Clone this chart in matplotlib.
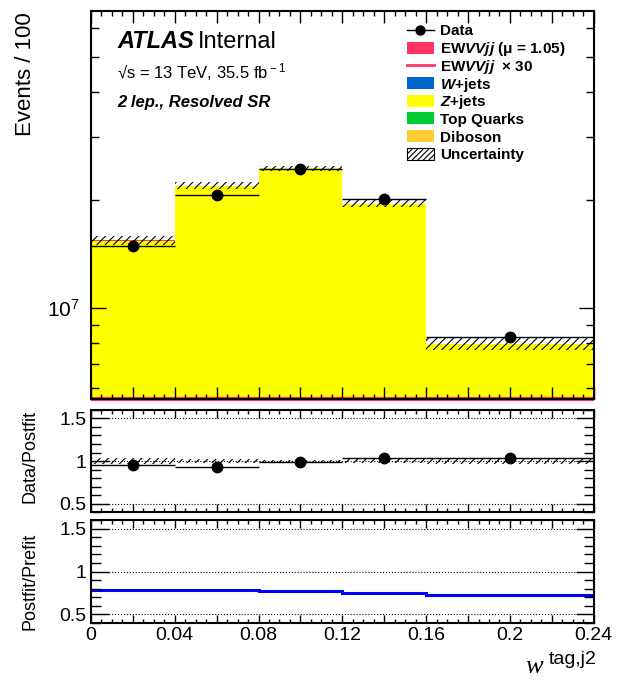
import numpy as np
import matplotlib.pyplot as plt
from matplotlib.patches import Rectangle
from matplotlib.ticker import FixedLocator, MultipleLocator, FuncFormatter, NullFormatter, LogLocator

plt.rcParams['font.family'] = ['Liberation Sans', 'DejaVu Sans']
plt.rcParams['mathtext.fontset'] = 'custom'
plt.rcParams['mathtext.rm'] = 'Liberation Sans'
plt.rcParams['mathtext.it'] = 'Liberation Sans:bold:italic'
plt.rcParams['mathtext.bf'] = 'Liberation Sans:bold'
plt.rcParams['hatch.linewidth'] = 0.8

# binning in w^{tag,j2}
edges = np.array([0.0, 0.04, 0.08, 0.12, 0.16, 0.24])
centers = 0.5 * (edges[1:] + edges[:-1])
halfw = 0.5 * (edges[1:] - edges[:-1])

# events / 100
data = np.array([1.49e7, 2.07e7, 2.44e7, 2.01e7, 8.3e6])
diboson = np.array([9.0e4, 1.2e5, 1.3e5, 1.1e5, 5.0e4])
top = np.array([6.0e4, 8.0e4, 9.0e4, 7.0e4, 3.0e4])
zjets = np.array([1.525e7, 2.165e7, 2.425e7, 1.93e7, 7.87e6])
wjets = np.array([1.0e4, 1.5e4, 1.5e4, 1.2e4, 6.0e3])
ewvvjj = np.array([2.0e4, 3.0e4, 3.5e4, 3.0e4, 1.5e4])
unc_rel = np.array([0.030, 0.022, 0.016, 0.021, 0.037])

# ratio panels
data_ratio = np.array([0.955, 0.935, 0.985, 1.03, 1.035])
post_pre = np.array([0.785, 0.78, 0.775, 0.755, 0.725])

ylo, yhi = 5.6e6, 6.7e7

c_ew = '#ff3366'
c_w = '#0066cc'
c_z = '#ffff00'
c_top = '#00cc33'
c_vv = '#ffcc33'

fig = plt.figure(figsize=(6.30, 6.82), dpi=100)
ax = fig.add_axes([0.1444, 0.415, 0.798, 0.569])
ax1 = fig.add_axes([0.1444, 0.249, 0.798, 0.150])
ax2 = fig.add_axes([0.1444, 0.0865, 0.798, 0.151])

# main stack
stack = [(diboson, c_vv), (top, c_top), (zjets, c_z), (wjets, c_w), (ewvvjj, c_ew)]
base = np.zeros(len(data))
for vals, col in stack:
    ax.stairs(base + vals, edges, baseline=base.copy(), fill=True, color=col, lw=0)
    base = base + vals
total = base
ax.bar(edges[:-1], 2 * unc_rel * total, width=np.diff(edges), bottom=total * (1 - unc_rel),
       align='edge', fill=False, hatch='////', edgecolor='black', lw=0)
# EW x30 falls below the range -> drawn on the lower edge
ax.stairs(np.maximum(ewvvjj * 30, ylo), edges, baseline=None, color=c_ew, lw=3,
          clip_on=False, zorder=1)
ax.errorbar(centers, data, xerr=halfw, fmt='o', color='black', ms=7.5, elinewidth=1, capsize=0)

ax.set_yscale('log')
ax.set_ylim(ylo, yhi)
ax.set_xlim(0, 0.24)
ax.yaxis.set_minor_locator(LogLocator(subs=np.arange(2, 10)))
ax.yaxis.set_minor_formatter(NullFormatter())
ax.tick_params(axis='y', which='major', labelsize=15, pad=8, length=11)
ax.tick_params(axis='y', which='minor', length=5.5)
ax.tick_params(axis='x', which='major', length=8.5, labelbottom=False)
ax.tick_params(axis='x', which='minor', length=3.5)

ax.text(0.052, 0.905, 'ATLAS', transform=ax.transAxes, fontsize=17, weight='bold', style='italic')
ax.text(0.213, 0.905, 'Internal', transform=ax.transAxes, fontsize=17)
ax.text(0.052, 0.825, '√s = 13 TeV, 35.5 fb$^{\\rm -1}$', transform=ax.transAxes, fontsize=12)
ax.text(0.052, 0.752, '2 lep., Resolved SR', transform=ax.transAxes, fontsize=12, weight='bold', style='italic')

# legend, drawn row by row (pixel layout of the reference)
labels = ['Data', 'EW$VVjj$ (μ = 1.05)', 'EW$VVjj$  × 30', '$W$+jets', '$Z$+jets',
          'Top Quarks', 'Diboson', 'Uncertainty']
kinds = ['data', c_ew, 'line', c_w, c_z, c_top, c_vv, 'hatch']


def axx(px):
    return (px - 91) / 503


def axy(py):
    return (399 - py) / 388


for i, (lab, kind) in enumerate(zip(labels, kinds)):
    yc = 30 + i * 17.7
    if kind == 'data':
        ax.plot([axx(407), axx(434)], [axy(yc)] * 2, color='black', lw=1, transform=ax.transAxes)
        ax.plot([axx(420.5)], [axy(yc)], 'o', color='black', ms=6.5, transform=ax.transAxes)
    elif kind == 'line':
        ax.plot([axx(407), axx(434)], [axy(yc)] * 2, color=c_ew, lw=2, transform=ax.transAxes)
    elif kind == 'hatch':
        ax.add_patch(Rectangle((axx(407), axy(yc + 6)), axx(434) - axx(407), axy(yc - 6) - axy(yc + 6),
                               transform=ax.transAxes, facecolor='white', edgecolor='black',
                               hatch='//////', lw=0.8))
    else:
        ax.add_patch(Rectangle((axx(407), axy(yc + 6)), axx(434) - axx(407), axy(yc - 6) - axy(yc + 6),
                               transform=ax.transAxes, facecolor=kind, lw=0))
    ax.text(axx(440), axy(yc + 5.5), lab, transform=ax.transAxes, fontsize=11, weight='bold',
            va='baseline', ha='left')

# data / postfit
ax1.bar(edges[:-1], 2 * unc_rel, width=np.diff(edges), bottom=1 - unc_rel,
        align='edge', fill=False, hatch='////', edgecolor='black', lw=0)
ax1.errorbar(centers, data_ratio, xerr=halfw, fmt='o', color='black', ms=7.5, elinewidth=1, capsize=0)

# postfit / prefit
ax2.stairs(post_pre, edges, baseline=None, color='#0000ff', lw=2.2)

for a in (ax1, ax2):
    for v in (0.5, 1.0, 1.5):
        a.axhline(v, color='black', ls=':', lw=0.8, zorder=0)
    a.set_ylim(0.4, 1.6)
    a.set_xlim(0, 0.24)
    a.yaxis.set_major_locator(FixedLocator([0.5, 1.0, 1.5]))
    a.yaxis.set_minor_locator(MultipleLocator(0.1))
    a.yaxis.set_major_formatter(FuncFormatter(lambda v, p: '%g' % v))
    a.tick_params(axis='y', which='major', length=13, labelsize=14, pad=3)
    a.tick_params(axis='y', which='minor', length=7)
    a.tick_params(axis='x', which='major', length=6)
    a.tick_params(axis='x', which='minor', length=3)

for a in (ax, ax1, ax2):
    a.xaxis.set_major_locator(MultipleLocator(0.02))
    a.xaxis.set_minor_locator(MultipleLocator(0.005))
    a.tick_params(which='both', direction='in', top=True, right=True, width=1)
    for s in a.spines.values():
        s.set_linewidth(1.5)

ax1.tick_params(axis='x', labelbottom=False)
ax2.xaxis.set_major_formatter(FuncFormatter(
    lambda v, p: ('%g' % round(v, 2)) if abs(round(v / 0.04) * 0.04 - v) < 1e-6 else ''))
ax2.tick_params(axis='x', labelsize=14, pad=3)

fig.text(0.041, 0.982, 'Events / 100', rotation=90, ha='center', va='top', fontsize=16)
fig.text(0.048, 1 - 410 / 682, 'Data/Postfit', rotation=90, ha='center', va='top', fontsize=13)
fig.text(0.048, 1 - 533 / 682, 'Postfit/Prefit', rotation=90, ha='center', va='top', fontsize=13)
fig.text(0.862, 0.0132, 'w', ha='right', va='baseline', fontsize=19,
         family='Liberation Serif', style='italic')
fig.text(0.9476, 0.027, 'tag,j2', ha='right', va='baseline', fontsize=14)

fig.savefig('out.png', dpi=100)
